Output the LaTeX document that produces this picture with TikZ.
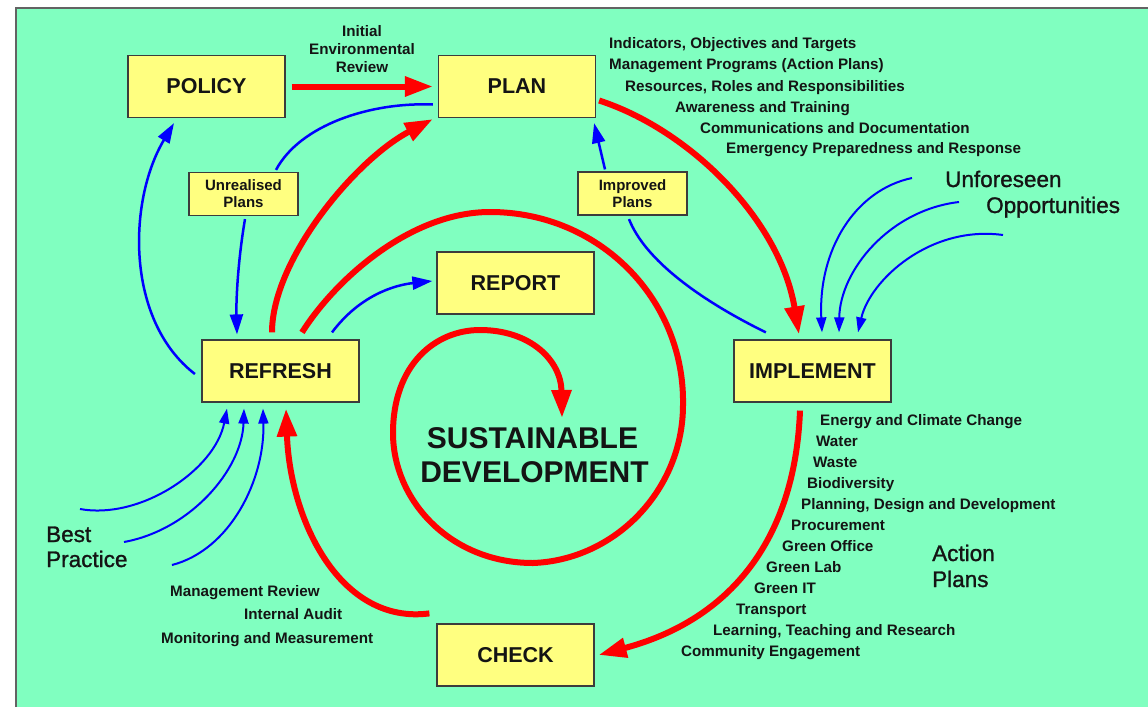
\documentclass[tikz,border=0pt]{standalone}
\usepackage{fontspec}
\setmainfont{Liberation Sans}
\newfontfamily\medfont[FakeBold=1.2]{Liberation Sans}
\usetikzlibrary{arrows.meta}
\definecolor{bggreen}{RGB}{128,255,192}
\definecolor{boxyellow}{RGB}{255,255,128}
\definecolor{boxedge}{RGB}{60,60,60}
\definecolor{ink}{RGB}{20,20,20}
\begin{document}
\begin{tikzpicture}[x=1pt,y=-1pt,
  bigbox/.style={draw=boxedge, line width=1.2pt, fill=boxyellow, minimum width=157pt, minimum height=62pt, inner sep=0pt, text=ink, font=\bfseries\fontsize{21.5}{24}\selectfont},
  smallbox/.style={draw=boxedge, line width=1.2pt, fill=boxyellow, minimum width=109pt, minimum height=43pt, inner sep=0pt, align=center, text=ink, font=\bfseries\fontsize{15}{17}\selectfont},
  lbl/.style={inner sep=0pt, text=ink, font=\bfseries\fontsize{15.2}{17}\selectfont},
  biglbl/.style={inner sep=0pt, text=ink, font=\medfont\fontsize{22.5}{26}\selectfont},
  redarrow/.style={draw=red, line width=6pt, -{Triangle[length=28pt,width=19pt]}},
  bluearrow/.style={draw=blue, line width=2.5pt, -{Triangle[length=20pt,width=13pt]}},
  blueline/.style={draw=blue, line width=2.5pt},
  thinblue/.style={draw=blue, line width=2pt, -{Triangle[length=15pt,width=10pt]}}
]
\useasboundingbox (0,0) rectangle (1148,707);
\fill[bggreen] (16,8) rectangle (1148,707);
\draw[boxedge!80, line width=1.5pt] (16,707) -- (16,8) -- (1148,8);

% main boxes
\node[bigbox] (policy) at (206.5,86.5) {POLICY};
\node[bigbox] (plan) at (517,86.5) {PLAN};
\node[bigbox] (report) at (515.5,283) {REPORT};
\node[bigbox] (refresh) at (280.5,371) {REFRESH};
\node[bigbox] (implement) at (812.5,371) {IMPLEMENT};
\node[bigbox] (check) at (515.5,655) {CHECK};
\node[smallbox] (unreal) at (243.5,194) {Unrealised\\Plans};
\node[smallbox] (improved) at (632.5,193.5) {Improved\\Plans};

% labels
\node[lbl, anchor=base] (ir1) at (362,36) {Initial};
\node[lbl, anchor=base] (ir2) at (362,54) {Environmental};
\node[lbl, anchor=base] (ir3) at (362,72) {Review};

\node[lbl, anchor=base west] (p1) at (609,48) {Indicators, Objectives and Targets};
\node[lbl, anchor=base west] (p2) at (609,69) {Management Programs (Action Plans)};
\node[lbl, anchor=base west] (p3) at (625,91) {Resources, Roles and Responsibilities};
\node[lbl, anchor=base west] (p4) at (675,112) {Awareness and Training};
\node[lbl, anchor=base west] (p5) at (700,133) {Communications and Documentation};
\node[lbl, anchor=base west] (p6) at (726,153) {Emergency Preparedness and Response};

\node[biglbl, anchor=base west] (uf1) at (945,187) {Unforeseen};
\node[biglbl, anchor=base west] (uf2) at (986,213) {Opportunities};

\node[lbl, anchor=base west] (a1) at (820,425) {Energy and Climate Change};
\node[lbl, anchor=base west] (a2) at (816,446) {Water};
\node[lbl, anchor=base west] (a3) at (813,467) {Waste};
\node[lbl, anchor=base west] (a4) at (807,488) {Biodiversity};
\node[lbl, anchor=base west] (a5) at (801,509) {Planning, Design and Development};
\node[lbl, anchor=base west] (a6) at (791,530) {Procurement};
\node[lbl, anchor=base west] (a7) at (782,551) {Green Office};
\node[lbl, anchor=base west] (a8) at (766,572) {Green Lab};
\node[lbl, anchor=base west] (a9) at (754,593) {Green IT};
\node[lbl, anchor=base west] (a10) at (736,614) {Transport};
\node[lbl, anchor=base west] (a11) at (713,635) {Learning, Teaching and Research};
\node[lbl, anchor=base west] (a12) at (681,656) {Community Engagement};

\node[biglbl, anchor=base west] (ap1) at (932,561) {Action};
\node[biglbl, anchor=base west] (ap2) at (932,587) {Plans};

\node[biglbl, anchor=base west] (bp1) at (46,542) {Best};
\node[biglbl, anchor=base west] (bp2) at (46,567) {Practice};

\node[lbl, anchor=base west] (c1) at (170,596) {Management Review};
\node[lbl, anchor=base west] (c2) at (244,619) {Internal Audit};
\node[lbl, anchor=base west] (c3) at (161,643) {Monitoring and Measurement};

\node[inner sep=0pt, text=ink, font=\bfseries\fontsize{30}{34}\selectfont, anchor=base] (sd1) at (532.5,448) {SUSTAINABLE};
\node[inner sep=0pt, text=ink, font=\bfseries\fontsize{30}{34}\selectfont, anchor=base] (sd2) at (534.5,482) {DEVELOPMENT};

% red connectors
\draw[redarrow] ([xshift=6pt]policy.east) -- ([xshift=-5pt]plan.west);
\draw[redarrow] ([xshift=3pt,yshift=-14pt]plan.east) .. controls (690,130) and (780,220) .. ([xshift=-13.5pt,yshift=5pt]implement.north);
\draw[redarrow] ([xshift=-12.5pt,yshift=-8pt]implement.south) .. controls (795,540) and (730,620) .. ([xshift=4pt]check.east);
\draw[redarrow] ([xshift=-7pt,yshift=10pt]check.north west) .. controls (340,625) and (290,520) .. ([xshift=5.5pt,yshift=-6pt]refresh.south);
\draw[redarrow] ([xshift=-8.5pt,yshift=7pt]refresh.north) .. controls (272,260) and (355,160) .. ([xshift=-5pt,yshift=-1pt]plan.south west);
% spiral
\coordinate (sptop) at (490,212);
\coordinate (spright) at (683,405);
\coordinate (spbottom) at (533,563);
\coordinate (spleft) at (393,433);
\coordinate (spinner) at (480,330);
\coordinate (spiralend) at (562,418);
\draw[redarrow] ([xshift=21.5pt,yshift=7pt]refresh.north)
  .. controls (335,280) and (410,212) .. (sptop)
  .. controls (600,212) and (685,300) .. (spright)
  .. controls (683,490) and (615,560) .. (spbottom)
  .. controls (450,563) and (393,500) .. (spleft)
  .. controls (393,365) and (435,330) .. (spinner)
  .. controls (530,330) and (561,360) .. (spiralend);

% blue connectors
\draw[bluearrow] ([xshift=-6.5pt,yshift=-3pt]refresh.west) .. controls (125,320) and (128,200) .. ([xshift=-32.5pt,yshift=-5pt]policy.south);
\draw[blueline] ([xshift=-5pt,yshift=-18pt]plan.west) .. controls (370,102) and (300,125) .. ([xshift=32.5pt,yshift=2pt]unreal.north);
\draw[bluearrow] ([xshift=1.5pt,yshift=-3pt]unreal.south) .. controls (238,260) and (236,300) .. ([xshift=-43.5pt,yshift=5pt]refresh.north);
\draw[bluearrow] ([xshift=51.5pt,yshift=7pt]refresh.north) .. controls (360,295) and (395,285) .. ([xshift=-4pt,yshift=2pt]report.west);
\draw[blueline] ([xshift=32.5pt,yshift=7pt]implement.north west) .. controls (700,300) and (645,260) .. ([xshift=-3.5pt,yshift=-3.5pt]improved.south);
\draw[bluearrow] ([xshift=-27.5pt,yshift=2pt]improved.north) -- ([xshift=-2pt,yshift=-5pt]plan.south east);

% unforeseen opportunities
\coordinate (uo1) at (912,178);
\coordinate (uo2) at (959,202);
\coordinate (uo3) at (1003,235);
\draw[thinblue] (uo1) .. controls (855,190) and (818,250) .. ([xshift=9.5pt,yshift=7pt]implement.north);
\draw[thinblue] (uo2) .. controls (890,210) and (840,270) .. ([xshift=26.5pt,yshift=7pt]implement.north);
\draw[thinblue] (uo3) .. controls (930,225) and (870,280) .. ([xshift=45.5pt,yshift=7pt]implement.north);

% best practice
\coordinate (bpa) at (80,509);
\coordinate (bpb) at (124,542);
\coordinate (bpc) at (172,565);
\draw[thinblue] (bpa) .. controls (140,520) and (215,470) .. ([xshift=-53.5pt,yshift=-6pt]refresh.south);
\draw[thinblue] (bpb) .. controls (190,530) and (242,470) .. ([xshift=-36.5pt,yshift=-6pt]refresh.south);
\draw[thinblue] (bpc) .. controls (230,550) and (265,480) .. ([xshift=-17.5pt,yshift=-6pt]refresh.south);
\end{tikzpicture}
\end{document}
